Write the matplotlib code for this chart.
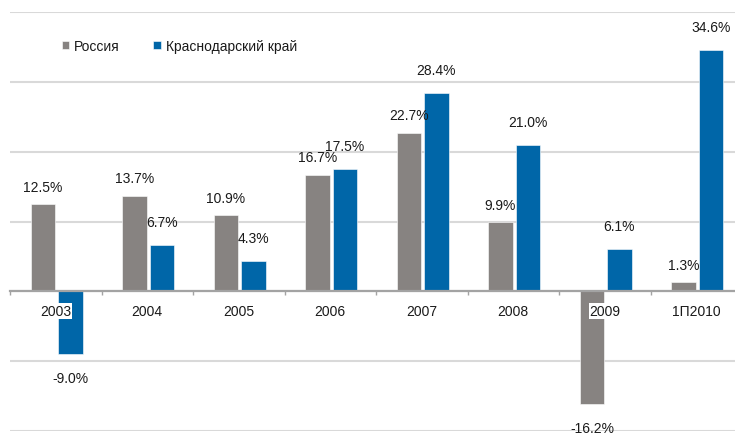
import numpy as np
import matplotlib
matplotlib.use('Agg')
import matplotlib.pyplot as plt
from matplotlib import font_manager

names = {f.name for f in font_manager.fontManager.ttflist}
fam = 'Liberation Sans Narrow' if 'Liberation Sans Narrow' in names else 'Liberation Sans'
plt.rcParams['font.family'] = [fam, 'DejaVu Sans']
fs = 11 if fam == 'Liberation Sans Narrow' else 10

categories = ['2003', '2004', '2005', '2006', '2007', '2008', '2009', '1П2010']
russia = [12.5, 13.7, 10.9, 16.7, 22.7, 9.9, -16.2, 1.3]
krasnodar = [-9.0, 6.7, 4.3, 17.5, 28.4, 21.0, 6.1, 34.6]

gray = '#878381'
blue = '#0066a8'
txt = '#1a1a1a'

fig = plt.figure(figsize=(7.35, 4.35), dpi=100)
ax = fig.add_axes([10/735, 3/435, 732/735, 419/435])

x = np.arange(len(categories))
w = 0.27
b1 = ax.bar(x - 0.14, russia, w, color=gray, edgecolor='white', linewidth=0.4, label='Россия')
b2 = ax.bar(x + 0.16, krasnodar, w, color=blue, edgecolor='white', linewidth=0.4, label='Краснодарский край')

# blue labels sit a bit higher than the gray ones, as in the original
for bars, vals, up in ((b1, russia, 7.5), (b2, krasnodar, 11.5)):
    for r, v in zip(bars, vals):
        cx = r.get_x() + r.get_width() / 2
        if v >= 0:
            ax.annotate(f'{v:.1f}%', (cx, v), xytext=(0, up), textcoords='offset points',
                        ha='center', va='bottom', fontsize=fs, color=txt)
        else:
            ax.annotate(f'{v:.1f}%', (cx, v), xytext=(0, -12), textcoords='offset points',
                        ha='center', va='top', fontsize=fs, color=txt)

ax.set_xlim(-0.5, 7.5)
ax.set_ylim(-20, 40)
ax.set_yticks([-20, -10, 0, 10, 20, 30, 40])
ax.yaxis.grid(True, color='#d9d9d9', linewidth=1.5)
ax.set_axisbelow(True)
ax.tick_params(axis='y', length=0, labelleft=False)

for s in ['left', 'right', 'top']:
    ax.spines[s].set_visible(False)
ax.spines['bottom'].set_position(('data', 0))
ax.spines['bottom'].set_color('#a3a3a3')
ax.spines['bottom'].set_linewidth(1.6)

ax.set_xticks(x)
ax.set_xticklabels(categories, fontsize=fs, color=txt)
ax.set_xticks(np.arange(-0.5, 8, 1), minor=True)
ax.tick_params(axis='x', which='major', length=0, pad=9)
ax.tick_params(axis='x', which='minor', length=3, width=1, color='#a3a3a3', direction='out')
for lab in ax.get_xticklabels():
    lab.set_bbox(dict(facecolor='white', edgecolor='none', pad=0.5))
ax.xaxis.set_zorder(3)

ax.legend(handles=[b1, b2], loc='center left', bbox_to_anchor=(49/735, 1 - 47/435),
          bbox_transform=fig.transFigure, ncol=2, frameon=False, fontsize=fs,
          handlelength=0.55, handleheight=0.55, handletextpad=0.35, columnspacing=2.4,
          labelcolor=txt)

fig.savefig('out.png', dpi=100)
